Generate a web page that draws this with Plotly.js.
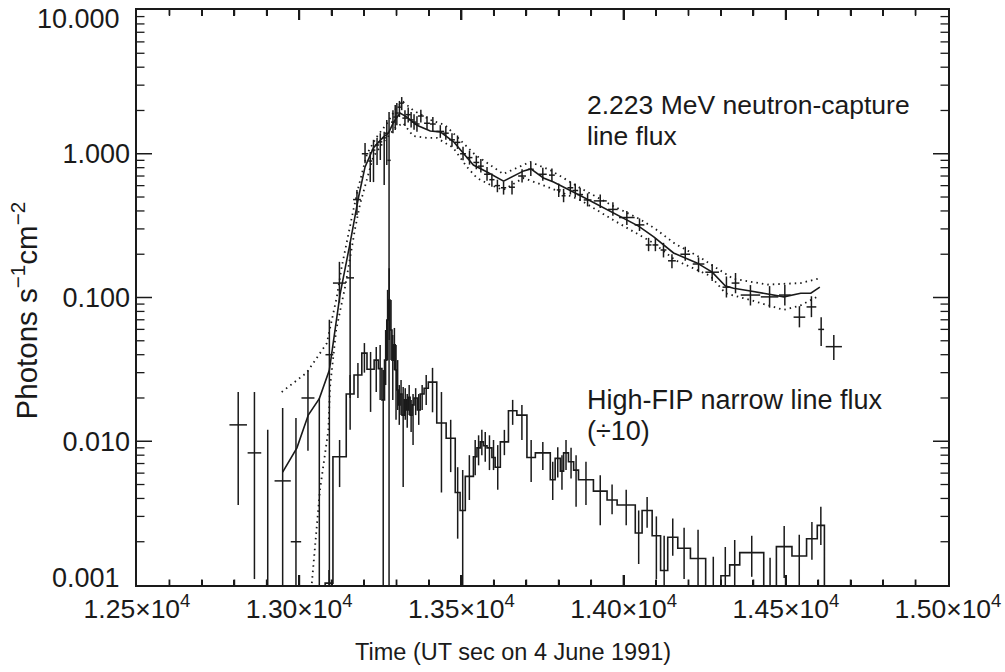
<!DOCTYPE html>
<html><head><meta charset="utf-8">
<script src="https://cdn.plot.ly/plotly-3.0.1.min.js"></script>
<style>html,body{margin:0;padding:0;background:#fff}#chart{width:1005px;height:672px}</style>
</head><body><div id="chart"></div>
<script>
// ---- 2.223 MeV neutron-capture line flux: data points (time, flux, half-width, lower/upper bound)
const ncTime = [12812,12862,12903,12949,12990,13027,13062,13093,13124,13157,
  13178,13203,13219,13229,13240,13250,13262,13270,13277,13289,
  13296,13301,13309,13316,13326,13336,13345,13354,13363,13375,
  13394,13412,13435,13452,13471,13488,13505,13525,13546,13560,
  13579,13594,13611,13630,13656,13687,13714,13751,13779,13800,
  13815,13836,13851,13866,13889,13928,13967,14010,14049,14077,
  14098,14123,14149,14190,14231,14273,14317,14345,14391,14450,
  14497,14542,14579,14609,14648];
const ncFlux = [0.0130,0.0083,0.0005,0.0053,0.0020,0.020,0.0005,0.040,0.126,0.137,
  0.48,1.00,0.89,1.06,1.15,1.21,1.29,1.39,0.90,1.66,
  1.80,1.92,2.11,2.25,1.77,1.87,1.72,1.66,1.61,1.83,
  1.63,1.61,1.43,1.39,1.25,1.20,1.00,0.94,0.87,0.82,
  0.72,0.66,0.60,0.58,0.585,0.70,0.78,0.72,0.71,0.56,
  0.51,0.58,0.555,0.52,0.477,0.47,0.41,0.36,0.32,0.232,
  0.232,0.214,0.18,0.20,0.171,0.15,0.118,0.126,0.104,0.101,
  0.104,0.073,0.086,0.060,0.0455];
const ncHalfWidth = [27,21,15,25,16,20,10,12,20,12,
  12,10,6,6,6,6,6,6,5,6,
  6,6,6,6,8,8,8,8,8,9,
  9,9,12,9,9,9,9,9,9,9,
  9,8,8,8,9,12,9,12,9,6,
  6,9,9,9,12,20,15,24,15,9,
  9,9,12,15,18,21,12,12,30,27,
  18,18,15,9,25];
const ncLow = [0.0036,0.0011,0,0,0,0.0086,0,0,0.092,0.020,
  0.375,0.86,0.635,0.635,0.835,0.905,0.607,0.835,0,1.39,
  1.46,1.58,1.80,2.01,1.56,1.65,1.52,1.47,1.42,1.65,
  1.46,1.44,1.29,1.25,1.12,1.08,0.90,0.84,0.78,0.74,
  0.65,0.59,0.54,0.52,0.52,0.63,0.70,0.65,0.64,0.50,
  0.46,0.52,0.50,0.47,0.43,0.42,0.37,0.32,0.29,0.21,
  0.21,0.19,0.16,0.18,0.15,0.13,0.10,0.107,0.088,0.085,
  0.088,0.062,0.073,0.046,0.0367];
const ncHigh = [0.022,0.022,0.012,0.017,0.0145,0.031,0.020,0.070,0.177,0.243,
  0.56,1.19,1.03,1.25,1.29,1.39,1.42,1.72,1.95,2.01,
  2.18,2.25,2.33,2.48,2.01,2.10,1.95,1.88,1.82,2.02,
  1.82,1.80,1.58,1.55,1.39,1.34,1.12,1.05,0.97,0.92,
  0.81,0.73,0.66,0.64,0.65,0.78,0.87,0.80,0.79,0.62,
  0.57,0.64,0.62,0.58,0.53,0.52,0.46,0.40,0.355,0.26,
  0.26,0.24,0.20,0.225,0.19,0.17,0.14,0.148,0.122,0.12,
  0.122,0.087,0.102,0.073,0.0548];

// ---- model fit (solid) and its bounds (dotted)
const fitTime = [12949,12993,13028,13062,13093,13126,13157,13183,13203,13229,
  13260,13275,13291,13311,13332,13363,13404,13435,13476,13506,
  13537,13579,13630,13692,13714,13753,13784,13866,13969,14046,
  14093,14154,14226,14273,14314,14339,14391,14494,14546,14577,14605];
const fitFlux = [0.0061,0.0090,0.0152,0.0198,0.0313,0.105,0.24,0.50,0.81,1.10,
  1.31,1.39,1.66,1.92,1.80,1.58,1.44,1.42,1.21,1.01,
  0.835,0.747,0.645,0.76,0.784,0.678,0.635,0.513,0.387,0.314,
  0.264,0.204,0.174,0.150,0.120,0.116,0.111,0.101,0.107,0.107,0.118];
const fitUpTime = [12946,13023,13085,13116,13131,13147,13167,13182,13209,13239,
  13270,13301,13321,13351,13404,13450,13496,13543,13589,13629,
  13712,13774,13866,13968,14051,14098,14159,14236,14338,14443,14545,14600];
const fitUpFlux = [0.022,0.030,0.048,0.101,0.163,0.251,0.406,0.578,1.00,1.31,
  1.62,2.11,2.29,2.01,1.72,1.58,1.25,0.98,0.835,0.723,
  0.877,0.77,0.578,0.433,0.35,0.30,0.236,0.19,0.135,0.123,0.126,0.135];
const fitLoTime = [13039,13054,13064,13080,13090,13095,13114,13142,13172,13188,
  13209,13228,13265,13296,13320,13351,13394,13424,13475,13517,
  13548,13589,13629,13691,13758,13866,13968,14092,14159,14268,
  14314,14391,14493,14545,14596];
const fitLoFlux = [0.00103,0.00253,0.00458,0.0083,0.0120,0.0238,0.0594,0.12,0.30,0.45,
  0.68,0.95,1.25,1.51,1.64,1.33,1.29,1.29,1.10,0.81,
  0.678,0.607,0.56,0.678,0.597,0.477,0.346,0.239,0.182,0.141,
  0.107,0.096,0.082,0.088,0.101];

// ---- High-FIP narrow line flux (/10): histogram bin edges, values and error bounds
const fipEdges = [13080,13104,13145,13169,13193,13209,13231,13244,13255,13263,
  13270,13275,13280,13286,13291,13296,13301,13306,13311,13317,
  13324,13330,13336,13342,13348,13354,13364,13373,13385,13398,
  13424,13453,13481,13496,13512,13537,13548,13558,13568,13579,
  13594,13604,13620,13645,13671,13702,13728,13774,13789,13805,
  13815,13830,13846,13861,13907,13949,13980,14036,14057,14088,
  14114,14136,14167,14206,14253,14300,14327,14358,14432,14471,
  14519,14564,14597,14619];
const fipFlux = [0.00103,0.0078,0.0213,0.0289,0.041,0.0317,0.0367,0.032,0.0194,0.0367,
  0.0697,0.096,0.0594,0.0367,0.0468,0.0313,0.0227,0.0179,0.0213,0.0152,
  0.0194,0.0165,0.0202,0.0152,0.0179,0.0200,0.0165,0.0213,0.0234,0.0258,
  0.0134,0.0105,0.0044,0.0033,0.0057,0.0078,0.0090,0.0099,0.0093,0.0090,
  0.0077,0.0066,0.0099,0.0163,0.0152,0.0077,0.0083,0.0054,0.0076,0.0062,
  0.0083,0.0072,0.0063,0.0054,0.0045,0.0039,0.0036,0.0023,0.0033,0.0022,
  0.00126,0.00215,0.0018,0.00153,0.0001,0.00116,0.00138,0.00168,0.0001,0.00185,
  0.00159,0.0021,0.0026];
const fipLow = [0,0.0048,0.012,0.020,0.030,0.016,0.022,0.0194,0,0.0246,
  0.0367,0.0506,0.0367,0.0194,0.0313,0.0141,0.0165,0.013,0.0152,0.0048,
  0.0141,0.0124,0.0152,0.0116,0.0094,0.0152,0.013,0.0165,0.0179,0.0159,
  0.0044,0.0061,0.0021,0,0.0039,0.0058,0.0068,0.008,0.0072,0.0063,
  0.0063,0.0046,0.008,0.013,0.0102,0.0052,0.0063,0.0039,0.0056,0.0046,
  0.0063,0.0055,0.0035,0.0036,0.0026,0.0031,0.0026,0.0014,0.0025,0.0011,
  0,0.0016,0.0011,0.00096,0,0,0,0.00114,0,0.00112,
  0,0.0015,0.0019];
const fipHigh = [0.00127,0.0102,0.0289,0.035,0.0482,0.0418,0.0453,0.0468,0.0313,0.0594,
  0.113,0.160,0.096,0.0548,0.0614,0.0468,0.0367,0.0246,0.0267,0.0238,
  0.0234,0.0213,0.0246,0.0194,0.0213,0.0234,0.0213,0.0246,0.0289,0.0324,
  0.022,0.0141,0.0066,0.0063,0.0080,0.0102,0.0110,0.012,0.0116,0.011,
  0.0102,0.0094,0.012,0.0194,0.0179,0.0102,0.0099,0.0072,0.0091,0.008,
  0.0102,0.009,0.008,0.0072,0.0058,0.0050,0.0046,0.0033,0.0041,0.0030,
  0.0022,0.0029,0.0025,0.00242,0.00157,0.00184,0.00206,0.0022,0.00155,0.00257,
  0.00224,0.00274,0.0035];
const BELOW = 0.0001; // value below the axis floor, used to close the histogram

// ---- axis ticks and labels
const xRange = [12500,15000];
const yRangeLog = [-3,1];
const xTickVals = [12500,13000,13500,14000,14500,15000];
const xTickText = ['1.25×10<sup>4</sup>','1.30×10<sup>4</sup>','1.35×10<sup>4</sup>','1.40×10<sup>4</sup>','1.45×10<sup>4</sup>','1.50×10<sup>4</sup>'];
const yTickVals = [0.001,0.01,0.1,1,10];
const yTickText = ['0.001','0.010','0.100','1.000','10.000'];
const xTitle = 'Time (UT sec on 4 June 1991)';
const yTitle = 'Photons s<sup>−1</sup>cm<sup>−2</sup>';
const label1 = ['2.223 MeV neutron-capture', 'line flux'];
const label2 = ['High-FIP narrow line flux', '(÷10)'];

const xMinorVals = [];
for (let v = 12600; v < 15000; v += 100) if (v % 500 !== 0) xMinorVals.push(v);
const yMinorVals = [];
[0.001,0.01,0.1,1].forEach(d => { for (let k=2;k<=9;k++) yMinorVals.push(+(d*k).toPrecision(3)); });

const INK = '#1a1a1a';
const FONT = 'Liberation Sans, Arial, Helvetica, sans-serif';

// plot-area size in pixels (page minus margins), used to express tick lengths
const W = 1005, H = 672, M = {l:137, r:57, t:10, b:87};
const PW = W - M.l - M.r, PH = H - M.t - M.b;

// derived arrays
const ncErrUp = ncHigh.map((h,i)=>h-ncFlux[i]);
const ncErrDn = ncLow.map((l,i)=>ncFlux[i]-l);
const fipCenters = fipFlux.map((_,i)=>(fipEdges[i]+fipEdges[i+1])/2);
const fipErrUp = fipHigh.map((h,i)=>h-fipFlux[i]);
const fipErrDn = fipLow.map((l,i)=>fipFlux[i]-l);
const histX = [fipEdges[0]].concat(fipEdges);
const histY = [BELOW].concat(fipFlux, [BELOW]);

const traces = [
  {x: histX, y: histY, type:'scatter', mode:'lines', line:{shape:'hv', color:INK, width:1.6}, hoverinfo:'skip'},
  {x: fipCenters, y: fipFlux, type:'scatter', mode:'markers', marker:{size:1, opacity:0},
   error_y:{type:'data', symmetric:false, array:fipErrUp, arrayminus:fipErrDn, color:INK, thickness:1.5, width:0}},
  {x: fitUpTime, y: fitUpFlux, type:'scatter', mode:'lines', line:{color:INK, width:1.8, dash:'1.5px,4px'}},
  {x: fitLoTime, y: fitLoFlux, type:'scatter', mode:'lines', line:{color:INK, width:1.8, dash:'1.5px,4px'}},
  {x: fitTime, y: fitFlux, type:'scatter', mode:'lines', line:{color:INK, width:1.6}},
  {x: ncTime, y: ncFlux, type:'scatter', mode:'markers', marker:{size:1, opacity:0},
   error_x:{type:'data', array:ncHalfWidth, color:INK, thickness:1.5, width:0},
   error_y:{type:'data', symmetric:false, array:ncErrUp, arrayminus:ncErrDn, color:INK, thickness:1.5, width:0}}
];

// inside tick marks on all four sides of the frame, placed from the tick arrays
function xFrac(v) { return (v - xRange[0]) / (xRange[1] - xRange[0]); }
function xTicks(vals, len, w) {
  const f = len / PH, out = [];
  vals.forEach(v => {
    const p = xFrac(v);
    out.push({type:'line', xref:'paper', yref:'paper', x0:p, x1:p, y0:0, y1:f, line:{color:INK, width:w}, layer:'above'});
    out.push({type:'line', xref:'paper', yref:'paper', x0:p, x1:p, y0:1, y1:1-f, line:{color:INK, width:w}, layer:'above'});
  });
  return out;
}
function yTicks(vals, len, w) {
  const f = len / PW, out = [];
  vals.forEach(v => {
    out.push({type:'line', xref:'paper', yref:'y', y0:v, y1:v, x0:0, x1:f, line:{color:INK, width:w}, layer:'above'});
    out.push({type:'line', xref:'paper', yref:'y', y0:v, y1:v, x0:1, x1:1-f, line:{color:INK, width:w}, layer:'above'});
  });
  return out;
}
const tickShapes = [].concat(
  xTicks(xTickVals.slice(1,-1), 10, 2),
  xTicks(xMinorVals, 5.5, 1.8),
  yTicks(yTickVals.slice(1,-1), 15, 1.5),
  yTicks(yMinorVals, 7.5, 1.3)
);

const layout = {
  width:W, height:H,
  margin:{l:M.l, r:M.r, t:M.t, b:M.b, pad:0},
  paper_bgcolor:'#ffffff', plot_bgcolor:'#ffffff',
  showlegend:false,
  font:{family:FONT, size:26, color:INK},
  xaxis: {
    type:'linear', range:xRange, tickmode:'array', tickvals:xTickVals, ticktext:xTickText,
    ticks:'inside', ticklen:10, tickwidth:2, tickcolor:INK,
    minor:{tickmode:'linear', tick0:xRange[0], dtick:100, ticks:'inside', ticklen:5.5, tickwidth:1.8, tickcolor:INK, showgrid:false},
    showline:true, linecolor:INK, linewidth:1.6, mirror:'allticks', showgrid:false, zeroline:false,
    tickfont:{size:26.5, color:INK}
  },
  yaxis: {
    type:'log', range:yRangeLog, tickmode:'array', tickvals:yTickVals,
    ticktext:yTickText.map((t,i)=> (i===0 || i===yTickText.length-1) ? '' : t),
    ticks:'', showline:true, linecolor:INK, linewidth:1.6, mirror:true, showgrid:false, zeroline:false,
    tickfont:{size:27, color:INK}
  },
  shapes: tickShapes,
  annotations:[
    // end labels of the y axis sit inside the frame, as in the original
    {xref:'paper', yref:'paper', x:-0.0185, y:0.984, xanchor:'right', yanchor:'middle', showarrow:false, text:yTickText[yTickText.length-1], font:{size:27, color:INK}},
    {xref:'paper', yref:'paper', x:-0.0185, y:0.0125, xanchor:'right', yanchor:'middle', showarrow:false, text:yTickText[0], font:{size:27, color:INK}},
    {xref:'paper', yref:'paper', x:0.464, y:-0.1165, xanchor:'center', yanchor:'middle', showarrow:false, text:xTitle, font:{size:23.5, color:INK}},
    {xref:'paper', yref:'paper', x:-0.139, y:0.478, xanchor:'center', yanchor:'middle', textangle:-90, showarrow:false, text:yTitle, font:{size:29.5, color:INK}},
    {xref:'paper', yref:'paper', x:0.553, y:0.835, xanchor:'left', yanchor:'middle', showarrow:false, text:label1[0], font:{size:26.5, color:INK}},
    {xref:'paper', yref:'paper', x:0.553, y:0.781, xanchor:'left', yanchor:'middle', showarrow:false, text:label1[1], font:{size:26.5, color:INK}},
    {xref:'paper', yref:'paper', x:0.553, y:0.322, xanchor:'left', yanchor:'middle', showarrow:false, text:label2[0], font:{size:27, color:INK}},
    {xref:'paper', yref:'paper', x:0.553, y:0.267, xanchor:'left', yanchor:'middle', showarrow:false, text:label2[1], font:{size:27, color:INK}}
  ]
};

Plotly.newPlot('chart', traces, layout, {displayModeBar:false, staticPlot:true});
</script>
</body></html>
